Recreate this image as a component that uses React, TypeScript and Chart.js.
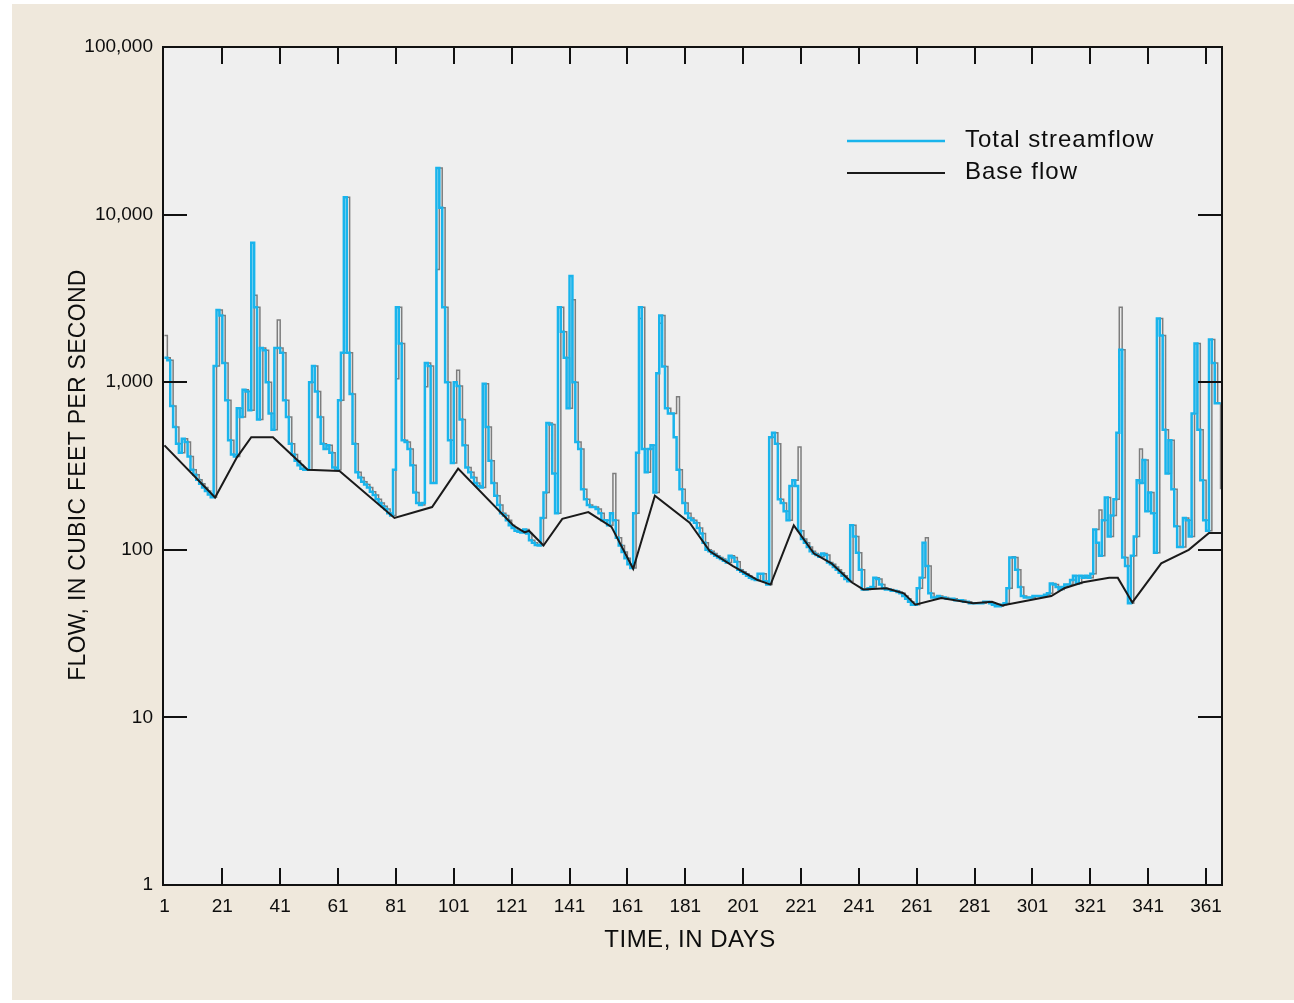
import React, { useEffect, useRef } from "react";
import { Chart, registerables } from "chart.js";

Chart.register(...registerables);

// ---- Data ----
const xTickDays = [1, 21, 41, 61, 81, 101, 121, 141, 161, 181, 201, 221, 241, 261, 281, 301, 321, 341, 361];
const yTickValues = [1, 10, 100, 1000, 10000, 100000];

// Daily total streamflow (cubic feet per second), days 1..366
const totalStreamflow = [
  1400, 1400, 1350, 720, 540, 430, 380, 460, 440, 360,
  300, 280, 262, 248, 235, 224, 214, 206, 1250, 2700,
  2500, 1300, 780, 450, 370, 360, 700, 620, 900, 880,
  680, 6800, 2800, 600, 1600, 1550, 1000, 650, 520, 1600,
  1600, 1500, 780, 620, 430, 370, 340, 320, 305, 300,
  300, 1000, 1250, 880, 620, 430, 400, 420, 380, 310,
  300, 780, 1500, 12700, 1500, 850, 430, 290, 270, 255,
  245, 235, 222, 212, 200, 190, 182, 175, 165, 160,
  300, 2800, 1700, 450, 440, 400, 320, 220, 190, 185,
  190, 1300, 1250, 250, 250, 19000, 11000, 2800, 1000, 450,
  330, 1000, 950, 600, 420, 310, 290, 270, 250, 240,
  235, 980, 540, 340, 250, 210, 185, 165, 160, 150,
  140, 135, 130, 128, 127, 132, 125, 114, 110, 107,
  106, 155, 220, 570, 560, 285, 165, 2800, 2000, 1400,
  700, 4300, 1000, 440, 400, 230, 200, 185, 180, 180,
  175, 165, 150, 150, 140, 165, 150, 118, 106, 97,
  89, 82, 78, 165, 380, 2800, 400, 290, 400, 420,
  220, 1130, 2500, 1240, 700, 650, 650, 470, 300, 230,
  190, 165, 155, 150, 145, 135, 125, 110, 100, 98,
  95, 92, 90, 88, 86, 84, 92, 90, 85, 76,
  74, 72, 70, 68, 67, 66, 72, 72, 65, 62,
  470, 500, 430, 200, 190, 170, 150, 240, 260, 240,
  130, 116, 110, 104, 98, 95, 93, 91, 95, 93,
  84, 82, 79, 76, 73, 70, 67, 65, 140, 120,
  96, 76, 58, 58, 59, 60, 68, 67, 62, 59,
  58, 58, 57, 57, 56, 55, 53, 51, 49, 47,
  47, 59, 68, 110, 80, 55, 52, 52, 53, 52,
  52, 51, 51, 51, 50, 50, 50, 49, 49, 48,
  48, 48, 48, 48, 49, 49, 48, 47, 46, 46,
  47, 48, 59, 90, 90, 76, 60, 53, 52, 52,
  52, 53, 53, 53, 53, 54, 55, 63, 62, 60,
  58, 60, 62, 62, 66, 70, 63, 70, 68, 70,
  68, 72, 132, 110, 92, 150, 205, 120, 160, 200,
  500, 1560, 90, 80, 48, 92, 120, 260, 250, 343,
  170, 220, 165, 96, 2400, 1900, 520, 285, 450, 230,
  138, 104, 104, 155, 150, 120, 650, 1700, 520, 260,
  150, 130, 1800, 1300, 750, 750,
];

// Days where the grey trace in the figure differs from the blue one
const greyTraceDays = [1, 32, 40, 81, 91, 95, 102, 142, 156, 165, 172, 178, 220, 264, 294, 324, 331, 338, 366];
const greyTraceValues = [1900, 3300, 2350, 1050, 940, 4700, 1180, 3100, 285, 2400, 2250, 820, 410, 118, 91, 173, 2800, 400, 230];

// Base-flow separation line (turning points)
const baseFlowDays = [
  1, 18.5, 26, 31, 38.5, 50.5, 61.5, 80.5, 93.5, 102.5,
  121.5, 125.5, 127, 132, 138.5, 147.5, 155.5, 163, 170.5, 182.5,
  189.5, 197.5, 206, 210.5, 218.5, 225.5, 231.5, 238.5, 242.5, 250.5,
  256.5, 260.5, 269.5, 280.5, 287, 290.5, 307.5, 312, 318.5, 327.5,
  330.5, 335.5, 345.5, 355, 362, 366.5,
];
const baseFlowValues = [
  420, 205, 355, 470, 470, 300, 295, 155, 180, 305,
  140, 127, 130, 106, 153, 168, 137, 77, 210, 145,
  98, 80, 66, 62, 140, 95, 83, 64, 58, 59,
  55, 47, 51.5, 48, 49, 46.5, 53, 59, 64, 68,
  68, 48.5, 83, 100, 126, 126,
];

const FONT = "'Liberation Sans', Arial, Helvetica, sans-serif";
const TEXT = "#0d0d0d";

const bgPlugin = {
  id: "bgPanels",
  beforeDraw(chart: any) {
    const { ctx, chartArea: a, width, height } = chart;
    ctx.save();
    ctx.fillStyle = "#ffffff";
    ctx.fillRect(0, 0, width, height);
    ctx.fillStyle = "#efe8dc";
    ctx.fillRect(12, 4, width - 12, height - 7);
    ctx.fillStyle = "#efefef";
    ctx.fillRect(a.left, a.top, a.right - a.left, a.bottom - a.top);
    ctx.restore();
  },
};

const framePlugin = {
  id: "frameTicksLegend",
  afterDraw(chart: any) {
    const { ctx, chartArea: a, scales } = chart;
    const xs = scales.x;
    const ys = scales.y;
    ctx.save();
    ctx.strokeStyle = "#111";
    ctx.lineWidth = 2;
    ctx.strokeRect(a.left, a.top, a.right - a.left, a.bottom - a.top);
    ctx.beginPath();
    xTickDays.forEach((d) => {
      if (d === 1) return;
      const px = Math.round(xs.getPixelForValue(d));
      ctx.moveTo(px, a.bottom);
      ctx.lineTo(px, a.bottom - 17);
      ctx.moveTo(px, a.top);
      ctx.lineTo(px, a.top + 17);
    });
    yTickValues.forEach((v) => {
      if (v === 1 || v === 100000) return;
      const py = Math.round(ys.getPixelForValue(v));
      ctx.moveTo(a.left, py);
      ctx.lineTo(a.left + 24, py);
      ctx.moveTo(a.right, py);
      ctx.lineTo(a.right - 24, py);
    });
    ctx.stroke();

    // axis titles
    ctx.fillStyle = TEXT;
    ctx.textAlign = "center";
    ctx.textBaseline = "middle";
    ctx.font = `24px ${FONT}`;
    try { (ctx as any).letterSpacing = "0.5px"; } catch (e) {}
    ctx.fillText("TIME, IN DAYS", 690, 940);
    ctx.save();
    ctx.font = `23px ${FONT}`;
    try { (ctx as any).letterSpacing = "0.3px"; } catch (e) {}
    ctx.translate(79, 475);
    ctx.rotate(-Math.PI / 2);
    ctx.fillText("FLOW, IN CUBIC FEET PER SECOND", 0, 0);
    ctx.restore();

    // legend
    ctx.lineWidth = 2.5;
    ctx.strokeStyle = "#19b4ec";
    ctx.beginPath();
    ctx.moveTo(847, 141);
    ctx.lineTo(945, 141);
    ctx.stroke();
    ctx.strokeStyle = "#1a1a1a";
    ctx.lineWidth = 2;
    ctx.beginPath();
    ctx.moveTo(847, 173);
    ctx.lineTo(945, 173);
    ctx.stroke();
    ctx.font = `24px ${FONT}`;
    try { (ctx as any).letterSpacing = "1px"; } catch (e) {}
    ctx.textAlign = "left";
    ctx.fillText("Total streamflow", 965, 140);
    ctx.fillText("Base flow", 965, 172);
    try { (ctx as any).letterSpacing = "0px"; } catch (e) {}
    ctx.restore();
  },
};

export default function App() {
  const ref = useRef<HTMLCanvasElement | null>(null);

  useEffect(() => {
    document.body.style.margin = "0";
    const canvas = ref.current;
    if (!canvas) return;

    const days = totalStreamflow.map((_, i) => i + 1);
    const greyTrace = totalStreamflow.slice();
    greyTraceDays.forEach((d, i) => {
      greyTrace[d - 1] = greyTraceValues[i];
    });

    const chart = new Chart(canvas, {
      type: "line",
      data: {
        datasets: [
          {
            label: "Base flow",
            data: baseFlowDays.map((d, i) => ({ x: d, y: baseFlowValues[i] })),
            borderColor: "#1a1a1a",
            borderWidth: 2,
            pointRadius: 0,
            tension: 0,
            order: 0,
          },
          {
            label: "Total streamflow",
            data: days.map((d, i) => ({ x: d, y: totalStreamflow[i] })),
            borderColor: "#19b4ec",
            borderWidth: 2.5,
            pointRadius: 0,
            stepped: "after",
            order: 1,
          },
          {
            label: "grey",
            data: days.map((d, i) => ({ x: d, y: greyTrace[i] })),
            borderColor: "#7d7d7d",
            borderWidth: 1.5,
            pointRadius: 0,
            stepped: "before",
            order: 2,
          },
        ],
      },
      options: {
        animation: false,
        responsive: false,
        devicePixelRatio: 1,
        events: [],
        layout: { padding: { left: 12, right: 72, top: 47, bottom: 4 } },
        plugins: {
          legend: { display: false },
          tooltip: { enabled: false },
        },
        scales: {
          x: {
            type: "linear",
            min: 0.5,
            max: 366.5,
            grid: { display: false, drawTicks: false },
            border: { display: false },
            afterBuildTicks: (scale: any) => {
              scale.ticks = xTickDays.map((v) => ({ value: v }));
            },
            afterFit: (scale: any) => {
              scale.height = 114;
            },
            ticks: {
              autoSkip: false,
              maxRotation: 0,
              padding: 10,
              color: TEXT,
              font: { family: FONT, size: 19 },
              callback: (v: any) => String(v),
            },
          },
          y: {
            type: "logarithmic",
            min: 1,
            max: 100000,
            grid: { display: false, drawTicks: false },
            border: { display: false },
            afterBuildTicks: (scale: any) => {
              scale.ticks = yTickValues.map((v) => ({ value: v }));
            },
            afterFit: (scale: any) => {
              scale.width = 151;
            },
            ticks: {
              autoSkip: false,
              padding: 10,
              color: TEXT,
              font: { family: FONT, size: 19 },
              callback: (v: any) => Number(v).toLocaleString("en-US"),
            },
          },
        },
      } as any,
      plugins: [bgPlugin, framePlugin],
    });

    return () => chart.destroy();
  }, []);

  return (
    <canvas
      ref={ref}
      width={1294}
      height={1003}
      style={{ display: "block", width: 1294, height: 1003 }}
    />
  );
}
